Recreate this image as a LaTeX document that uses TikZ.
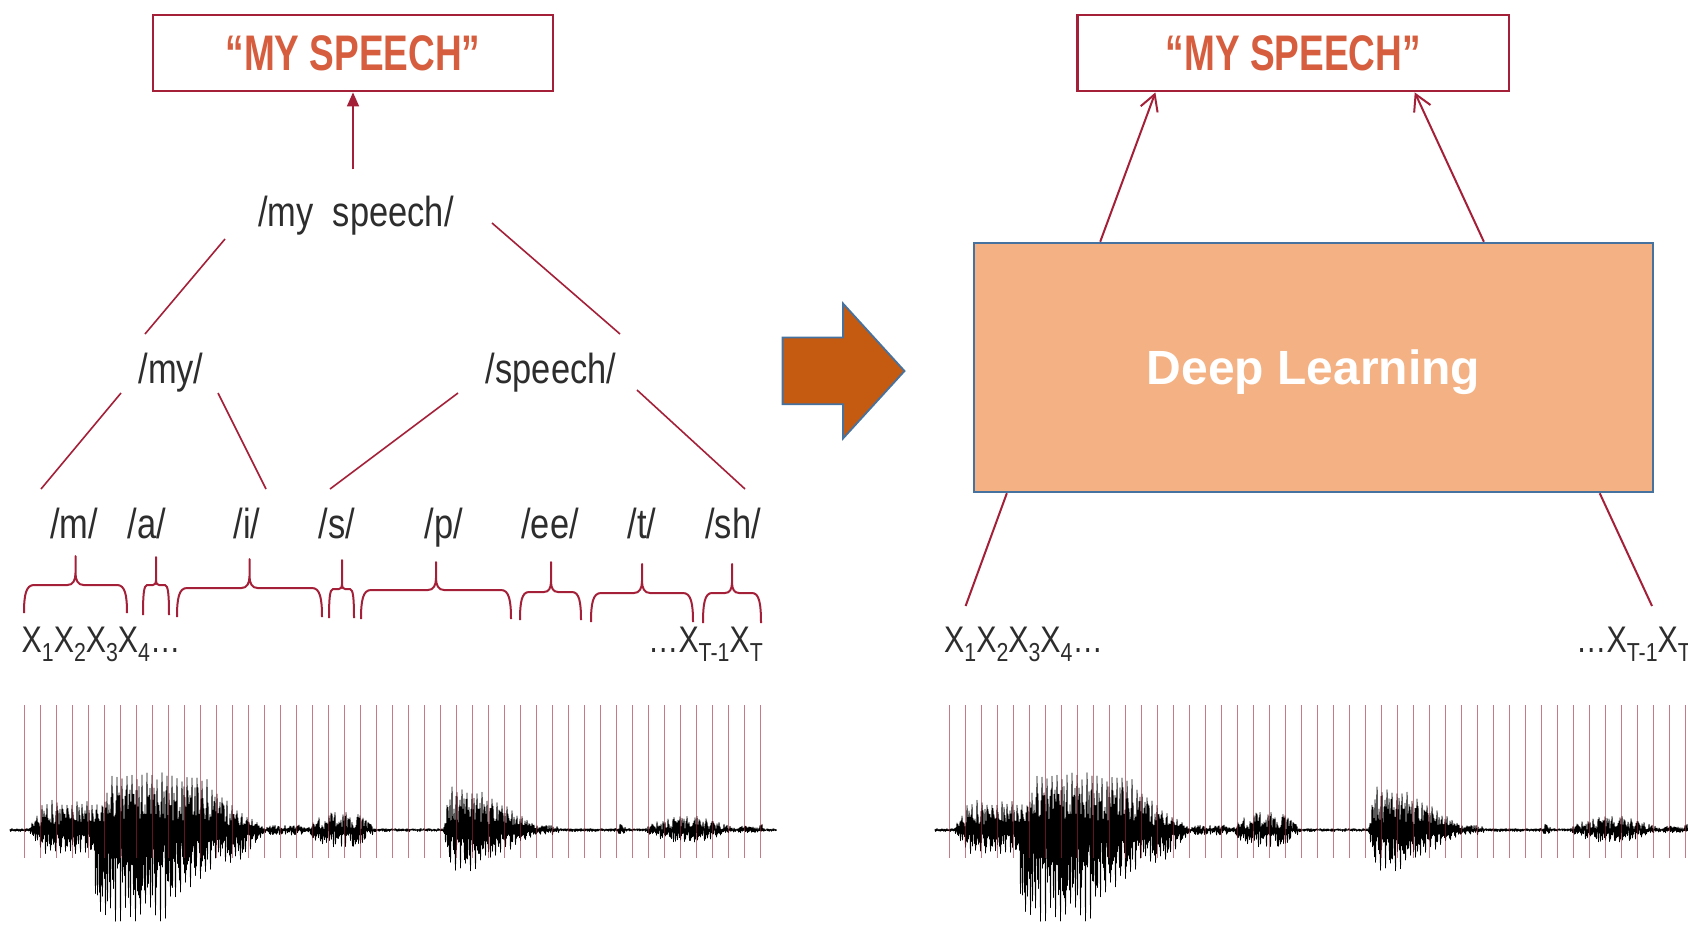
\documentclass[tikz,border=0pt]{standalone}
\usepackage{fontspec}
\setmainfont{Liberation Sans}
\newfontfamily\narrowfont[FakeStretch=0.82]{Liberation Sans}
\newfontfamily\titlefont[FakeStretch=0.74]{Liberation Sans}
\usetikzlibrary{arrows.meta,calc}

\definecolor{linkred}{RGB}{163,32,56}
\definecolor{titlered}{RGB}{214,94,62}
\definecolor{inkgray}{RGB}{45,45,45}
\definecolor{dlfill}{RGB}{244,177,131}
\definecolor{dlborder}{RGB}{70,114,160}
\definecolor{blockorange}{RGB}{197,90,17}

% subscript used in the frame labels
\newcommand\xs[1]{\raisebox{-9pt}{\fontsize{26}{26}\selectfont #1}}

% phoneme brace: x1, x2, xtip, ytip, yshoulder, yend, end radius, tip radius
\newcommand\phbrace[8]{%
  \draw[brace] (#1,#6) .. controls (#1,#5+0.35*#6-0.35*#5) and (#1+0.2*#7,#5) .. (#1+#7,#5)
    -- (#3-#8,#5) .. controls (#3-0.3*#8,#5) and (#3,#5-0.6*#8) .. (#3,#5-1.5*#8)
    -- (#3,#4) -- (#3,#5-1.5*#8)
    .. controls (#3,#5-0.6*#8) and (#3+0.3*#8,#5) .. (#3+#8,#5)
    -- (#2-#7,#5) .. controls (#2-0.2*#7,#5) and (#2,#5+0.35*#6-0.35*#5) .. (#2,#6);}

% envelope of the speech waveform (pixels above / below the zero line)
\pgfmathdeclarefunction{trap}{5}{\pgfmathparse{max(0,min(1,(#1-#2)/(#3-#2),(#5-#1)/(#5-#4)))}}
\pgfmathdeclarefunction{envup}{1}{\pgfmathparse{max(1.5,
  30*trap(#1,28,45,225,268), 58*trap(#1,92,112,205,250),
  5*trap(#1,262,270,300,312), 18*trap(#1,305,322,358,378),
  46*trap(#1,443,450,470,545), 5*trap(#1,535,540,555,562),
  6*trap(#1,616,619,623,627), 14*trap(#1,640,668,700,742),
  4*trap(#1,735,740,755,762), 8*trap(#1,758,760,762,764))}}
\pgfmathdeclarefunction{envdn}{1}{\pgfmathparse{max(1.5,
  24*trap(#1,28,45,235,268), 34*trap(#1,90,100,240,268), 95*trap(#1,88,98,160,250),
  5*trap(#1,262,270,300,312), 17*trap(#1,305,322,358,378),
  42*trap(#1,443,450,470,545), 5*trap(#1,535,540,555,562),
  5*trap(#1,616,619,623,627), 12*trap(#1,640,668,700,742),
  3*trap(#1,735,740,755,762))}}

\tikzset{
  link/.style={draw=linkred, line width=1.6pt},
  brace/.style={draw=linkred, line width=2pt, line join=round},
  titlebox/.style={draw=linkred, line width=2.2pt, fill=white, inner sep=0pt,
    text=titlered, font=\titlefont\bfseries\fontsize{50}{56}\selectfont},
  lbl/.style={text=inkgray, font=\narrowfont\fontsize{42}{48}\selectfont, inner sep=0pt, anchor=base},
  xlbl/.style={text=inkgray, font=\narrowfont\fontsize{37}{42}\selectfont, inner sep=0pt},
  tickline/.style={draw=linkred, opacity=0.6, line width=1.2pt},
  wave/.style={draw=black, line width=0.9pt, line join=round},
}

\begin{document}
\begin{tikzpicture}[x=1pt, y=-1pt]
\useasboundingbox (0,0) rectangle (1688,926);

% ---------------- speech waveform (shared by both panels) ----------------
\pgfmathsetseed{2718}
\def\wavepath{(10,830)}
\foreach \i in {0,...,766}{%
  \pgfmathsetmacro\xa{10+\i}%
  \pgfmathsetmacro\xb{10.5+\i}%
  \pgfmathsetmacro\vo{((\xa<268)||((\xa>440)&&(\xa<546))) ? 1 : 0}%
  \pgfmathsetmacro\ra{(\vo==1) ? ((mod(\i,5)==2) ? 0.8+0.2*rnd : 0.15+0.6*rnd) : rnd}%
  \pgfmathsetmacro\rb{(\vo==1) ? ((mod(\i,5)==0) ? 0.75+0.25*rnd : 0.15+0.6*rnd) : rnd}%
  \pgfmathsetmacro\ya{830-envup(\xa)*\ra}%
  \pgfmathsetmacro\yb{830+envdn(\xb)*\rb}%
  \xdef\wavepath{\wavepath -- (\xa,\ya) -- (\xb,\yb)}%
}
\edef\wavecmd{\noexpand\draw[wave] \wavepath;}
\wavecmd
\begin{scope}[xshift=925pt]\wavecmd\end{scope}

% frame boundaries
\foreach \k in {0,...,46}{%
  \draw[tickline] (24.5+16*\k,705) -- (24.5+16*\k,858);
  \draw[tickline] (949.5+16*\k,705) -- (949.5+16*\k,858);
}

% ---------------- left panel: hierarchical decoding ----------------
\node[titlebox, minimum width=400pt, minimum height=76pt] (ltitle) at (353,53.3) {“MY SPEECH”};
\node[lbl] (ms) at (356,226) {/my\ \ speech/};
\coordinate (msTop) at ($(ltitle.south)+(0,77)$);
\draw[link, -{Triangle[length=14pt,width=12pt]}] (msTop) -- (ltitle.south);

\node[lbl] (my) at (171,383) {/my/};
\node[lbl] (sp) at (551,383) {/speech/};

\coordinate (ms-l-a) at (225,239);  \coordinate (ms-l-b) at (145,334);
\coordinate (ms-r-a) at (492,223);  \coordinate (ms-r-b) at (620,334);
\coordinate (my-l-a) at (121,393);  \coordinate (my-l-b) at (41,489);
\coordinate (my-r-a) at (218,393);  \coordinate (my-r-b) at (266,489);
\coordinate (sp-l-a) at (458,393);  \coordinate (sp-l-b) at (330,489);
\coordinate (sp-r-a) at (637,390);  \coordinate (sp-r-b) at (745,489);
\draw[link] (ms-l-a) -- (ms-l-b);
\draw[link] (ms-r-a) -- (ms-r-b);
\draw[link] (my-l-a) -- (my-l-b);
\draw[link] (my-r-a) -- (my-r-b);
\draw[link] (sp-l-a) -- (sp-l-b);
\draw[link] (sp-r-a) -- (sp-r-b);

\node[lbl] (ph-m)  at (74,538)  {/m/};
\node[lbl] (ph-a)  at (147,538) {/a/};
\node[lbl] (ph-i)  at (247,538) {/i/};
\node[lbl] (ph-s)  at (337,538) {/s/};
\node[lbl] (ph-p)  at (444,538) {/p/};
\node[lbl] (ph-ee) at (550,538) {/ee/};
\node[lbl] (ph-t)  at (642,538) {/t/};
\node[lbl] (ph-sh) at (733,538) {/sh/};

\phbrace{24}{127}{75.5}{556}{585}{613}{10}{8}
\phbrace{143}{169}{156}{557}{585}{615}{4}{3}
\phbrace{177}{322}{249.5}{559}{588}{617}{10}{8}
\phbrace{329}{354}{342}{560}{589}{618}{4}{3}
\phbrace{361}{511}{436}{562}{590}{619}{10}{8}
\phbrace{520}{581}{551}{562}{592}{620}{9}{7}
\phbrace{591}{693}{642}{564}{593}{622}{10}{8}
\phbrace{703}{761}{732}{564}{593}{623}{9}{7}

\node[xlbl, anchor=base west] (xl-first) at (21.5,652) {X\xs{1}X\xs{2}X\xs{3}X\xs{4}…};
\node[xlbl, anchor=base east] (xl-last) at (763,652) {…X\xs{T-1}X\xs{T}};

% ---------------- block arrow ----------------
\draw[fill=blockorange, draw=dlborder, line width=1.8pt, line join=miter]
  (782.6,337.5) -- (843,337.5) -- (843,303.5) -- (904.5,371) -- (843,438.5)
  -- (843,404.3) -- (782.6,404.3) -- cycle;

% ---------------- right panel: end-to-end model ----------------
\node[titlebox, minimum width=431.5pt, minimum height=76pt] (rtitle) at (1293.3,53.3) {“MY SPEECH”};
\node[draw=dlborder, fill=dlfill, line width=2.5pt, minimum width=679pt, minimum height=249pt,
  inner sep=0pt, text=white, text depth=0pt,
  font=\bfseries\fontsize{48}{54}\selectfont] (dl) at (1313.5,367.5) {Deep Learning};

\draw[link, line width=2pt, -{Straight Barb[length=16pt,width=18pt]}]
  ($(dl.north west)!0.187!(dl.north east)$) -- ($(rtitle.south west)!0.182!(rtitle.south east)$);
\draw[link, line width=2pt, -{Straight Barb[length=16pt,width=18pt]}]
  ($(dl.north west)!0.75!(dl.north east)$) -- ($(rtitle.south west)!0.78!(rtitle.south east)$);

\coordinate (in-l) at (965.6,606);
\coordinate (in-r) at (1652,606);
\draw[link, line width=2pt] ($(dl.south west)!0.05!(dl.south east)$) -- (in-l);
\draw[link, line width=2pt] ($(dl.south west)!0.92!(dl.south east)$) -- (in-r);

\node[xlbl, anchor=base west] (xr-first) at (944,652) {X\xs{1}X\xs{2}X\xs{3}X\xs{4}…};
\node[xlbl, anchor=base west] (xr-last) at (1576,652) {…X\xs{T-1}X\xs{T}};
\end{tikzpicture}
\end{document}
